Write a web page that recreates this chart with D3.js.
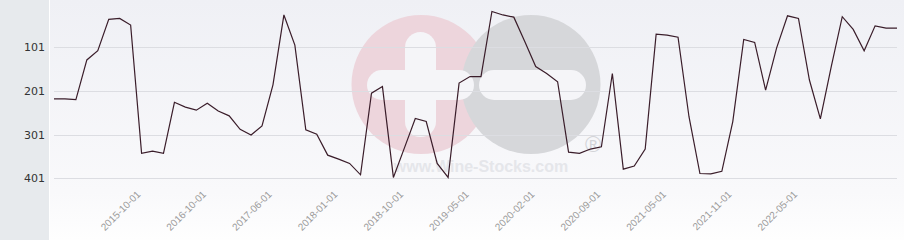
<!DOCTYPE html>
<html>
<head>
<meta charset="utf-8">
<script src="https://cdn.jsdelivr.net/npm/d3@7"></script>
<style>
  body { margin: 0; background: #fff; }
  svg { display: block; font-family: "DejaVu Sans", sans-serif; }
</style>
</head>
<body>
<svg id="chart"></svg>
<script>
// rank values, one per observation (lower = better)
const ranks = [
  219, 219, 221, 130, 109, 37, 35, 50, 344, 339,
  344, 227, 238, 245, 229, 247, 258, 289, 302, 281,
  187, 27, 96, 290, 300, 348, 357, 367, 393, 206,
  191, 399, 332, 264, 271, 367, 399, 183, 168, 168,
  19, 27, 32, 88, 145, 161, 180, 341, 344, 334,
  329, 161, 380, 373, 334, 71, 73, 78, 260, 390,
  391, 385, 271, 83, 90, 199, 103, 29, 35, 176,
  265, 145, 31, 60, 109, 52, 57, 57
];
const yTicks = [101, 201, 301, 401];
const xTickIndex = [8, 14, 20, 26, 32, 38, 44, 50, 56, 62, 68];
const xTickLabels = ["2015-10-01", "2016-10-01", "2017-06-01", "2018-01-01", "2018-10-01",
  "2019-05-01", "2020-02-01", "2020-09-01", "2021-05-01", "2021-11-01", "2022-05-01"];

const width = 904, height = 240;
const panelW = 49;
const plotLeft = 54, plotRight = 897;

const svg = d3.select("#chart").attr("width", width).attr("height", height);

const x = d3.scalePoint()
  .domain(d3.range(ranks.length))
  .range([plotLeft, plotRight]);

const y = d3.scaleLinear()
  .domain([1, 401])
  .range([3.6, 178.3]);

// backgrounds
let defs = svg.append("defs");
let grad = defs.append("linearGradient").attr("id", "bg")
  .attr("x1", 0).attr("y1", 0).attr("x2", 0).attr("y2", 1);
grad.append("stop").attr("offset", "0%").attr("stop-color", "#eff0f5");
grad.append("stop").attr("offset", "80%").attr("stop-color", "#f9f9fb");
grad.append("stop").attr("offset", "100%").attr("stop-color", "#fefefe");

svg.append("rect").attr("x", panelW + 1).attr("y", 0)
  .attr("width", width - panelW - 1).attr("height", height)
  .attr("fill", "url(#bg)");
svg.append("rect").attr("x", 0).attr("y", 0)
  .attr("width", panelW).attr("height", height)
  .attr("fill", "#e7eaed");

// watermark
let wm = svg.append("g");
wm.append("circle").attr("cx", 421).attr("cy", 84.5).attr("r", 69.5).attr("fill", "#edd5dc");
wm.append("circle").attr("cx", 531).attr("cy", 84.5).attr("r", 69.5).attr("fill", "#d6d7da");
wm.append("rect").attr("x", 405).attr("y", 32).attr("width", 31).attr("height", 105)
  .attr("rx", 15.5).attr("fill", "#f5f5f8");
wm.append("rect").attr("x", 367).attr("y", 70).attr("width", 107).attr("height", 30)
  .attr("rx", 15).attr("fill", "#f5f5f8");
wm.append("rect").attr("x", 479).attr("y", 70).attr("width", 107).attr("height", 30)
  .attr("rx", 15).attr("fill", "#f5f5f8");
wm.append("text").attr("x", 481).attr("y", 172)
  .attr("text-anchor", "middle")
  .style("font-family", "'Liberation Sans', Arial, sans-serif")
  .style("font-weight", "bold").style("font-size", "16px")
  .attr("fill", "#e5e6ea")
  .text("www.Wine-Stocks.com");
wm.append("text").attr("x", 593).attr("y", 152)
  .attr("text-anchor", "middle")
  .style("font-family", "'Liberation Sans', Arial, sans-serif")
  .style("font-size", "22px")
  .attr("fill", "#d3d4d8")
  .text("®");

// grid
svg.append("g").selectAll("line")
  .data(yTicks).enter().append("line")
  .attr("x1", plotLeft).attr("x2", plotRight)
  .attr("y1", d => Math.round(y(d)) + 0.5).attr("y2", d => Math.round(y(d)) + 0.5)
  .attr("stroke", "#dcdde2").attr("stroke-width", 1);

// y axis labels
let yAxis = d3.axisLeft(y).tickValues(yTicks).tickSize(0).tickPadding(0);
svg.append("g").attr("transform", "translate(45,0)").call(yAxis)
  .call(g => g.select(".domain").remove())
  .selectAll("text")
  .attr("fill", "#333").style("font-size", "11px")
  .style("font-family", "'DejaVu Sans', sans-serif");

// x axis labels
let xAxis = d3.axisBottom(x).tickValues(xTickIndex)
  .tickFormat((d, i) => xTickLabels[i]).tickSize(0);
svg.append("g").call(xAxis)
  .call(g => g.select(".domain").remove())
  .selectAll("text")
  .attr("fill", "#9a9a9a").style("font-size", "10px")
  .attr("text-anchor", "end")
  .attr("dy", null)
  .attr("y", null)
  .attr("transform", "translate(-1,195) rotate(-45)");

// series line
let line = d3.line()
  .x((d, i) => x(i))
  .y(d => y(d));
svg.append("path")
  .attr("d", line(ranks))
  .attr("fill", "none")
  .attr("stroke", "#3a1d2a")
  .attr("stroke-width", 1.2)
  .attr("stroke-linejoin", "miter");
</script>
</body>
</html>
